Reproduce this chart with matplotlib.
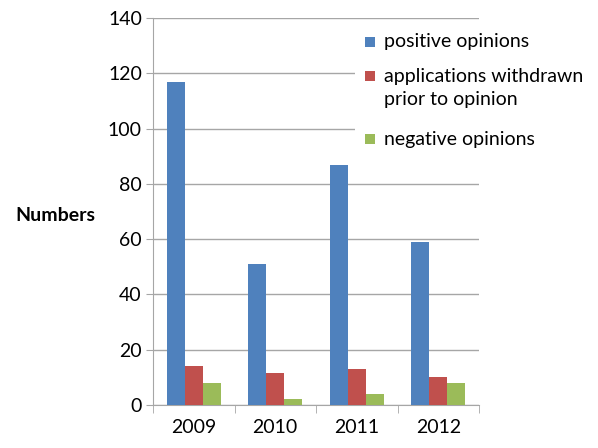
import matplotlib
matplotlib.use('Agg')
import matplotlib.pyplot as plt
from matplotlib.patches import Rectangle
import numpy as np

# dados
anos = ['2009', '2010', '2011', '2012']
positivos = [117, 51, 87, 59]
retirados = [14, 11.5, 13, 10]
negativos = [8, 2, 4, 8]
rotulos = ['positive opinions', 'applications withdrawn\nprior to opinion', 'negative opinions']

COR_AZUL = '#4F81BD'
COR_VERMELHO = '#C0504D'
COR_VERDE = '#9BBB59'
COR_GRADE = '#A6A6A6'
cores = [COR_AZUL, COR_VERMELHO, COR_VERDE]

plt.rcParams['font.family'] = ['Lato', 'DejaVu Sans']

W, H = 598, 448
fig = plt.figure(figsize=(W / 100, H / 100), dpi=100)
ax = fig.add_axes([153 / W, 43 / H, 326 / W, 387 / H])

x = np.arange(len(anos))
w = 0.22
for i, serie in enumerate([positivos, retirados, negativos]):
    ax.bar(x + (i - 1) * w, serie, w, color=cores[i], zorder=3)

ax.set_xlim(-0.5, len(anos) - 0.5)
ax.set_ylim(0, 140)
ax.set_yticks(range(0, 141, 20))
ax.tick_params(axis='y', labelsize=14, length=5, color=COR_GRADE, pad=3)

ax.set_xticks(x)
ax.set_xticklabels(anos, fontsize=14)
ax.set_xticks(np.arange(-0.5, len(anos)), minor=True)
ax.tick_params(axis='x', which='major', length=0, pad=10)
ax.tick_params(axis='x', which='minor', length=6, color=COR_GRADE)

ax.grid(axis='y', color=COR_GRADE, linewidth=1, zorder=0)
for s in ['top', 'right']:
    ax.spines[s].set_visible(False)
for s in ['left', 'bottom']:
    ax.spines[s].set_color(COR_GRADE)

fig.text(55 / W, 1 - 215 / H, 'Numbers', fontsize=14, fontweight='bold',
         ha='center', va='center')

# legenda desenhada a mao (fundo branco cobrindo a grade)
fig.add_artist(Rectangle((355 / W, 1 - 178 / H), 190 / W, 152 / H,
                         transform=fig.transFigure, facecolor='white',
                         edgecolor='none', zorder=4))
ys_leg = [42, 76, 139]
for cor, rot, yl in zip(cores, rotulos, ys_leg):
    fig.add_artist(Rectangle((365 / W, 1 - (yl + 5) / H), 10 / W, 10 / H,
                             transform=fig.transFigure, facecolor=cor,
                             edgecolor='none', zorder=5))
    for k, linha in enumerate(rot.split('\n')):
        fig.text(384 / W, 1 - (yl + 24 * k) / H, linha, fontsize=14,
                 ha='left', va='center', zorder=6)

fig.savefig('out.png', dpi=100)
